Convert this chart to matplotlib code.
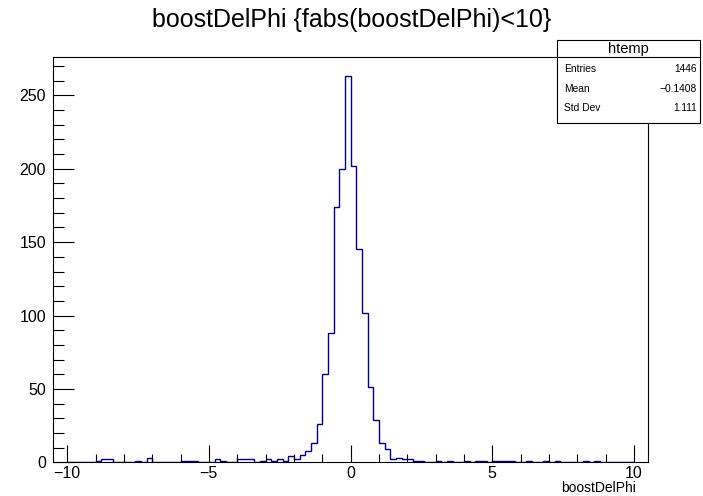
import numpy as np
import matplotlib
matplotlib.use("Agg")
import matplotlib.pyplot as plt
from matplotlib.patches import Rectangle
from matplotlib.ticker import MultipleLocator

plt.rcParams['font.family'] = ['Liberation Sans', 'DejaVu Sans']

# ---- data ----
bin_lo, bin_hi, n_bins = -10.0, 10.0, 100
counts = [0] * n_bins
nonzero = {
    5: 1, 6: 2, 7: 2, 12: 1, 14: 3, 20: 1, 21: 1, 22: 1, 26: 2, 27: 1,
    30: 2, 31: 2, 32: 2, 34: 1, 35: 2, 36: 1, 37: 2, 38: 1, 39: 4, 40: 2,
    41: 5, 42: 8, 43: 13, 44: 26, 45: 60, 46: 88, 47: 174, 48: 200, 49: 263,
    50: 202, 51: 145, 52: 102, 53: 51, 54: 29, 55: 13, 56: 9, 57: 2, 58: 3,
    59: 2, 60: 2, 61: 1, 62: 1, 65: 1, 67: 1, 70: 1, 72: 1, 73: 1, 75: 1,
    76: 1, 77: 1, 78: 1, 81: 1, 84: 1, 86: 1, 91: 1, 93: 1,
}
for k, v in nonzero.items():
    counts[k] = v

title = "boostDelPhi {fabs(boostDelPhi)<10}"
xlabel = "boostDelPhi"
stats_name = "htemp"
stats_rows = [("Entries", "1446"), ("Mean", "\u22120.1408"), ("Std Dev", "1.111")]

# ---- figure ----
W, H = 703, 496
fig = plt.figure(figsize=(W / 100, H / 100), dpi=100)

fl, fr, ft, fb = 53, 648, 57, 462.3
ax = fig.add_axes([fl / W, 1 - fb / H, (fr - fl) / W, (fb - ft) / H])
edges = np.linspace(bin_lo, bin_hi, n_bins + 1)
ax.stairs(counts, edges, color='#000099', lw=1.0)
ax.set_xlim(-10.5, 10.5)
ax.set_ylim(0, max(counts) * 1.05)

for s in ax.spines.values():
    s.set_linewidth(0.8)
    s.set_color('black')

ax.xaxis.set_major_locator(MultipleLocator(5))
ax.xaxis.set_minor_locator(MultipleLocator(1))
ax.yaxis.set_major_locator(MultipleLocator(50))
ax.yaxis.set_minor_locator(MultipleLocator(10))
ax.tick_params(which='both', direction='in', top=False, right=False, width=0.8,
               labelsize=11.5, colors='black')
ax.tick_params(axis='x', which='major', length=12, pad=3)
ax.tick_params(axis='x', which='minor', length=6)
ax.tick_params(axis='y', which='major', length=15, pad=5)
ax.tick_params(axis='y', which='minor', length=8)

fig.text(636 / W, 1 - 488 / H, xlabel, ha='right', va='center', fontsize=10)
fig.text(352 / W, 1 - 20 / H, title, ha='center', va='center', fontsize=18)

# stats box
bx0, bx1, by0, by1 = 557, 700, 40, 123
fig.patches.append(Rectangle((bx0 / W, 1 - by1 / H), (bx1 - bx0) / W, (by1 - by0) / H,
                             transform=fig.transFigure, facecolor='white',
                             edgecolor='black', lw=0.8, zorder=5))
fig.lines.append(plt.Line2D([bx0 / W, bx1 / W], [1 - 57 / H, 1 - 57 / H],
                            transform=fig.transFigure, color='black', lw=0.8, zorder=6))
fig.text((bx0 + bx1) / 2 / W, 1 - 48.5 / H, stats_name, ha='center', va='center',
         fontsize=10.5, zorder=7)
for i, (lab, val) in enumerate(stats_rows):
    y = 69 + i * 19.5
    fig.text(564 / W, 1 - y / H, lab, ha='left', va='center', fontsize=7.4, zorder=7)
    fig.text(697 / W, 1 - y / H, val, ha='right', va='center', fontsize=7.4, zorder=7)

fig.savefig("out.png", dpi=100, facecolor='white')
